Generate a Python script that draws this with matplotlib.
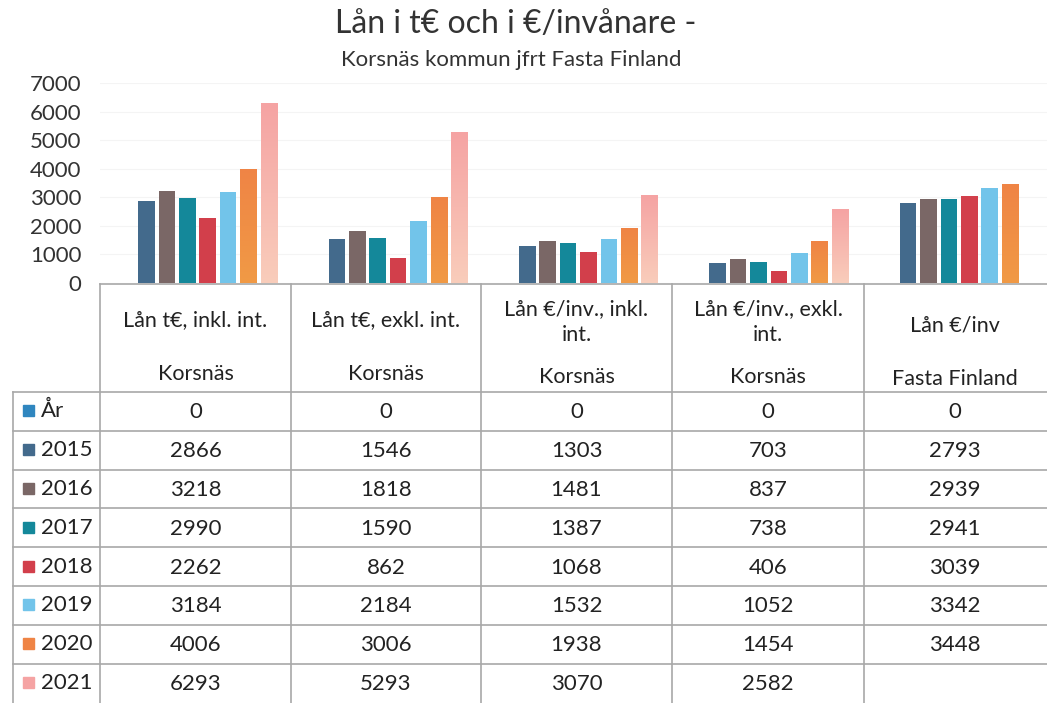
import matplotlib
matplotlib.use("Agg")
import matplotlib.pyplot as plt
import numpy as np
from matplotlib.patches import Rectangle
from matplotlib.lines import Line2D
from matplotlib.colors import LinearSegmentedColormap

plt.rcParams['font.family'] = ['Lato', 'DejaVu Sans']

# ---------------- data ----------------
categories = [
    ["Lån t€, inkl. int.", "Korsnäs"],
    ["Lån t€, exkl. int.", "Korsnäs"],
    ["Lån €/inv., inkl.\nint.", "Korsnäs"],
    ["Lån €/inv., exkl.\nint.", "Korsnäs"],
    ["Lån €/inv", "Fasta Finland"],
]
series_names = ["År", "2015", "2016", "2017", "2018", "2019", "2020", "2021"]
v_ar   = [0, 0, 0, 0, 0]
v_2015 = [2866, 1546, 1303, 703, 2793]
v_2016 = [3218, 1818, 1481, 837, 2939]
v_2017 = [2990, 1590, 1387, 738, 2941]
v_2018 = [2262, 862, 1068, 406, 3039]
v_2019 = [3184, 2184, 1532, 1052, 3342]
v_2020 = [4006, 3006, 1938, 1454, 3448]
v_2021 = [6293, 5293, 3070, 2582, None]
series_values = [v_ar, v_2015, v_2016, v_2017, v_2018, v_2019, v_2020, v_2021]
colors = ["#2f86bf", "#436a8c", "#7a6766", "#14889a", "#d23f4b",
          "#72c4ea", "#ef8445", "#f5a3a3"]
gradient_bottom = {6: "#f19a45", 7: "#f9cdbb"}
yticks = [0, 1000, 2000, 3000, 4000, 5000, 6000, 7000]
title = "Lån i t€ och i €/invånare -"
subtitle = "Korsnäs kommun jfrt Fasta Finland"

W, H = 1047, 703
fig = plt.figure(figsize=(W / 100, H / 100), dpi=100)

# --------------- bar axes ---------------
x_left, x_right = 100, 1052
y0_px, y7_px = 283, 83
ax = fig.add_axes([x_left / W, 1 - y0_px / H, (x_right - x_left) / W, (y0_px - y7_px) / H])
ax.set_clip_on(False)
ncat = len(categories)
x = np.arange(ncat)
step = 0.107
bw = 0.087
grad = np.linspace(0, 1, 256).reshape(-1, 1)
for i, (vals, c) in enumerate(zip(series_values, colors)):
    xs = [xi + (i - 3.5) * step + 0.012 for xi, v in zip(x, vals) if v is not None]
    ys = [v for v in vals if v is not None]
    bars = ax.bar(xs, ys, width=bw, color=c, edgecolor='none', zorder=3)
    if i in gradient_bottom:
        cmap = LinearSegmentedColormap.from_list("g%d" % i, [gradient_bottom[i], c])
        for b in bars:
            bx, by = b.get_x(), b.get_y()
            bwid, bh = b.get_width(), b.get_height()
            im = ax.imshow(grad, cmap=cmap, aspect='auto', origin='lower',
                           extent=[bx, bx + bwid, by, by + bh], zorder=4)
            im.set_clip_path(b)
ax.set_xlim(-0.5, ncat - 0.5)
ax.set_ylim(0, 7000)
ax.set_yticks(yticks)
ax.set_yticklabels([str(t) for t in yticks], fontsize=16, color="#333333")
ax.set_xticks([])
ax.tick_params(axis='y', length=0, pad=13.5)
for s in ["top", "right", "left", "bottom"]:
    ax.spines[s].set_visible(False)
ax.yaxis.grid(True, color="#f4f4f4", linewidth=0.8, zorder=0)
ax.set_axisbelow(True)

# --------------- table overlay ---------------
tax = fig.add_axes([0, 0, 1, 1])
tax.set_xlim(0, W)
tax.set_ylim(H, 0)
tax.axis('off')
tax.patch.set_alpha(0)

lc = "#a8a8a8"
col_edges = [100, 291, 481, 672, 864, 1052]
row_top = 392
row_h = 38.8
header_top = 284
nrows = len(series_names)
tc = "#222222"

tax.add_line(Line2D([100, W], [header_top, header_top], color=lc, lw=1.2))
for r in range(nrows):
    yy = row_top + r * row_h
    tax.add_line(Line2D([13, W], [yy, yy], color=lc, lw=1.2))
for xe in col_edges[:-1]:
    tax.add_line(Line2D([xe, xe], [header_top, H], color=lc, lw=1.2))
tax.add_line(Line2D([13, 13], [row_top, H], color=lc, lw=1.2))

hfs = 15.5
for ci, (l1, l2) in enumerate(categories):
    cx = (col_edges[ci] + col_edges[ci + 1]) / 2
    if ci == 4:
        cx = 955
    if "\n" in l1:
        tax.text(cx, 322, l1, ha='center', va='center', fontsize=hfs,
                 color=tc, linespacing=1.35)
        tax.text(cx, 377, l2, ha='center', va='center', fontsize=hfs, color=tc)
    elif ci == 4:
        tax.text(cx, 326, l1, ha='center', va='center', fontsize=hfs, color=tc)
        tax.text(cx, 379, l2, ha='center', va='center', fontsize=hfs, color=tc)
    else:
        tax.text(cx, 320, l1, ha='center', va='center', fontsize=hfs, color=tc)
        tax.text(cx, 374, l2, ha='center', va='center', fontsize=hfs, color=tc)

vfs = 16
for r, (name, vals, c) in enumerate(zip(series_names, series_values, colors)):
    yc = row_top + (r + 0.5) * row_h
    tax.add_patch(Rectangle((23, yc - 6), 11, 11, color=c))
    tax.text(41, yc, name, ha='left', va='center', fontsize=vfs, color=tc)
    for ci, v in enumerate(vals):
        if v is None:
            continue
        cx = (col_edges[ci] + col_edges[ci + 1]) / 2
        if ci == 4:
            cx = 955
        tax.text(cx, yc + 1, str(v), ha='center', va='center', fontsize=vfs, color=tc)

tax.text(516, 24, title, ha='center', va='center', fontsize=23, color="#333333")
tax.text(511, 60, subtitle, ha='center', va='center', fontsize=16, color="#333333")

fig.savefig("out.png", dpi=100)
